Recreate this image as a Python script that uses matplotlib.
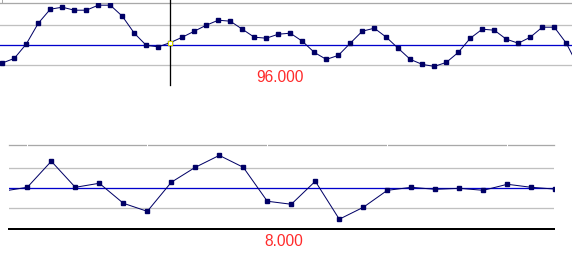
import matplotlib
matplotlib.use("Agg")
import matplotlib.pyplot as plt
import numpy as np

# values, in grid units (blue line = 0, grey lines = +-1)
top_values = [-0.90, -0.67, 0.05, 1.09, 1.79, 1.89, 1.74, 1.74, 1.99, 1.99,
              1.44, 0.59, -0.02, -0.09, 0.12, 0.39, 0.69, 0.99, 1.24, 1.19,
              0.79, 0.39, 0.34, 0.54, 0.59, 0.19, -0.37, -0.72, -0.52, 0.09,
              0.69, 0.84, 0.39, -0.17, -0.72, -0.97, -1.07, -0.87, -0.37, 0.34,
              0.79, 0.74, 0.29, 0.09, 0.39, 0.89, 0.89, 0.09, -1.08]
bottom_values = [-0.17, 0.02, 1.31, 0.02, 0.22, -0.77, -1.17, 0.27, 1.01, 1.60,
                 1.01, -0.67, -0.82, 0.32, -1.56, -0.97, -0.13, 0.02, -0.08, -0.03,
                 -0.13, 0.17, 0.02, -0.07]
cursor_index = 14
top_label = "96.000"
bottom_label = "8.000"

W, H = 572, 270
fig = plt.figure(figsize=(W / 100, H / 100), dpi=100)
fig.patch.set_facecolor("white")

px = 0.72  # one pixel in points
line_col = "#000066"
zero_col = "#0000cc"
grid_col = "#c0c0c0"


def axes_at(x0, y0, x1, y1):
    # pixel box (top-left origin) -> figure axes
    return fig.add_axes([x0 / W, 1 - y1 / H, (x1 - x0) / W, (y1 - y0) / H])


def style(ax):
    for s in ax.spines.values():
        s.set_visible(False)
    ax.set_xticks([])
    ax.set_yticks([])
    ax.axhline(0, color=zero_col, lw=1.3 * px, zorder=1)
    for g in (-1, 1):
        ax.axhline(g, color=grid_col, lw=1.3 * px, zorder=0)
    ax.axhline(ax.get_ylim()[1], color="#a8a8a8", lw=1.3 * px, zorder=0, clip_on=False)


# top panel
ax1 = axes_at(0, 2.7, 572, 85)
x1 = np.arange(len(top_values))
ax1.set_xlim((0 - 2.3) / 12, (572 - 2.3) / 12)
ax1.set_ylim(-2.0, 2.115)
style(ax1)
ax1.plot(x1, top_values, color=line_col, lw=1 * px, marker="s", ms=2.6,
         mfc=line_col, mec=line_col, zorder=3)
ax1.axvline(cursor_index, color="black", lw=1.3 * px, ymin=0, ymax=1.033,
            clip_on=False, zorder=4)
ax1.plot([cursor_index], [top_values[cursor_index]], marker="s", ms=3.0,
         mfc="white", mec="#d8d800", mew=1 * px, zorder=5)
ax1.plot([0, 0], [2.115, 2.24], color="#a8a8a8", lw=1 * px, clip_on=False)

# bottom panel
ax2 = axes_at(9, 145.3, 554, 228.7)
x2 = np.arange(len(bottom_values))
ax2.set_xlim((9 - 3.3) / 24, (554 - 3.3) / 24)
ax2.set_ylim(-2.03, 2.10)
style(ax2)
ax2.axhline(-2.03, color="black", lw=2 * px, clip_on=False, zorder=2)
ax2.plot(x2, bottom_values, color=line_col, lw=1 * px, marker="s", ms=2.6,
         mfc=line_col, mec=line_col, zorder=3)
for t in (1, 6, 11, 16, 21):
    ax2.plot([t, t], [2.05, 2.15], color="white", lw=1 * px, clip_on=False, zorder=4)

# value labels
fig.text(303.5 / W, 1 - 82.3 / H, top_label, color="#ff2a2a", fontsize=11.2,
         family="Liberation Sans", ha="right", va="baseline")
fig.text(303.5 / W, 1 - 245.7 / H, bottom_label, color="#ff2a2a", fontsize=11.2,
         family="Liberation Sans", ha="right", va="baseline")

fig.savefig("out.png", dpi=100, facecolor="white")
